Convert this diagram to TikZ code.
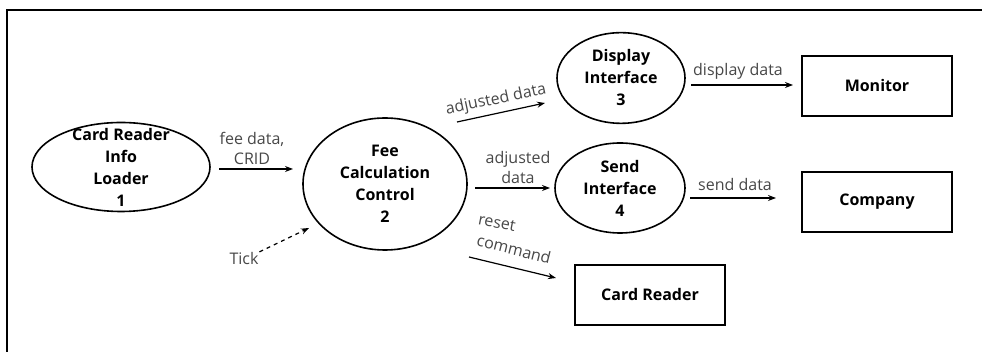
\documentclass[tikz,border=0pt]{standalone}
\usepackage{fontspec}
\setmainfont{Open Sans}
\usetikzlibrary{shapes.geometric,arrows.meta}

\tikzset{
  proc/.style={ellipse,draw,line width=1.2pt,inner sep=0pt},
  proctext/.style={align=center,inner sep=0pt,font=\bfseries\fontsize{12}{16.5}\selectfont},
  term/.style={draw,line width=1.2pt,minimum width=112.5pt,minimum height=45pt,font=\bfseries\fontsize{12}{16.5}\selectfont},
  flow/.style={-{Stealth[length=6pt,width=4.5pt]},line width=0.9pt},
  flowtext/.style={inner sep=0.5pt,text=black!72,align=center,font=\fontsize{12}{15}\selectfont}
}

\begin{document}
\begin{tikzpicture}[x=0.75pt,y=0.75pt,yscale=-1]
\useasboundingbox (0,0) rectangle (982,352);

%Frame
\draw [line width=1.2pt] (7,352) -- (7,10) -- (982,10) ;

%Shape: Ellipse [processes]
\node (p1) at (121,167) [proc,minimum width=133.5pt,minimum height=66.75pt,label={[proctext]center:{Card Reader\\Info\\Loader\\1}}] {};
\node (p2) at (385,184) [proc,minimum width=123pt,minimum height=99pt,label={[proctext]center:{Fee\\Calculation\\Control\\2}}] {};
\node (p3) at (621,78) [proc,minimum width=96pt,minimum height=68pt,label={[proctext]center:{Display\\Interface\\3}}] {};
\node (p4) at (620,188) [proc,minimum width=97.5pt,minimum height=67.5pt,label={[proctext]center:{Send\\Interface\\4}}] {};

%Shape: Rectangle [terminators]
\node (monitor) at (877,86) [term] {Monitor};
\node (company) at (877,202) [term] {Company};
\node (reader) at (650,295) [term] {Card Reader};

%Arrow ends
\coordinate (a1s) at (219,169) ;  \coordinate (a1e) at (293,169) ;
\coordinate (a2s) at (457,122) ;  \coordinate (a2e) at (545,103) ;
\coordinate (a3s) at (475,188) ;  \coordinate (a3e) at (550,188) ;
\coordinate (a4s) at (469,257) ;  \coordinate (a4e) at (556,278) ;
\coordinate (a5s) at (691,85) ;   \coordinate (a5e) at (793,85) ;
\coordinate (a6s) at (690,198) ;  \coordinate (a6e) at (776,198) ;
\coordinate (a7e) at (309,228) ;

%Straight Lines
\draw [flow] (a1s) -- (a1e) ;
\draw [flow] (a2s) -- (a2e) ;
\draw [flow] (a3s) -- (a3e) ;
\draw [flow] (a4s) -- (a4e) ;
\draw [flow] (a5s) -- (a5e) ;
\draw [flow] (a6s) -- (a6e) ;

% Text Node
\node (feedata) at (252,148) [flowtext] {fee data,\\CRID};
% Text Node
\node (adj1) at (496,100) [flowtext,rotate=12] {adjusted data};
% Text Node
\node (adj2) at (518,168) [flowtext] {adjusted\\data};
% Text Node
\node (reset) at (497,223) [flowtext,rotate=-11] {reset};
% Text Node
\node (command) at (514,249) [flowtext,rotate=-14] {command};
% Text Node
\node (dispdata) at (738,71) [flowtext] {display data};
% Text Node
\node (senddata) at (735,185) [flowtext] {send data};
% Text Node
\node (tick) at (244,259) [flowtext] {Tick};

\draw [flow,dashed] (tick.north east) -- (a7e) ;

\end{tikzpicture}
\end{document}
